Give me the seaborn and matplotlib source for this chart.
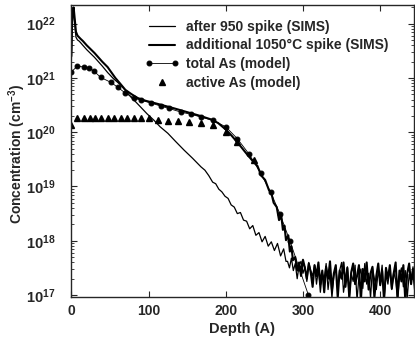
import numpy as np
import pandas as pd
import matplotlib
matplotlib.use("Agg")
import matplotlib.pyplot as plt
from matplotlib.legend_handler import HandlerLine2D
import seaborn as sns

# values, log10 of concentration (cm^-3) vs depth (A)

# SIMS after 950 spike
sims950_depth = [0, 1, 2, 3, 4, 5, 6, 8, 10, 12, 15, 20, 25, 30, 35, 40, 47, 55, 64, 70,
                 77, 84, 90, 98, 107, 115, 125, 135, 146, 157, 168, 173, 178, 183, 187, 191,
                 195, 199, 203, 207, 211, 215, 219, 223, 227, 231, 235, 239, 243, 247, 251,
                 255, 259, 263, 267, 271, 275, 278]
sims950_log = [21.3, 21.9, 22.2, 22.25, 22.1, 21.9, 21.75, 21.7, 21.68, 21.65, 21.6, 21.52,
               21.45, 21.38, 21.3, 21.22, 21.1, 20.98, 20.87, 20.77, 20.65, 20.55, 20.46,
               20.34, 20.22, 20.1, 19.98, 19.83, 19.67, 19.52, 19.36, 19.3, 19.2, 19.08,
               19.05, 18.95, 18.9, 18.82, 18.78, 18.66, 18.62, 18.5, 18.52, 18.38, 18.36,
               18.22, 18.28, 18.1, 18.15, 17.98, 18.08, 17.9, 17.98, 17.82, 17.95, 17.72,
               17.85, 17.62]
# noisy tail, one reading every 2.5 A from 280 A
sims950_tail_start = 280
sims950_tail_step = 2.5
sims950_tail_log = [17.62, 17.5, 17.68, 17.45, 17.58, 17.3, 17.55, 17.62, 17.4, 17.52, 17.25,
                    17.6, 17.45, 17.35, 17.55, 17.2, 17.48, 17.05, 17.4, 17.3, 17.58, 17.1,
                    17.42, 16.95, 17.35, 17.5, 17.15, 17.45, 17.6, 17.05, 17.3, 17.52, 16.95,
                    17.4, 17.25, 17.55, 16.9, 17.35, 17.48, 17.12, 17.58, 17.2, 17.4, 16.95,
                    17.5, 17.3, 17.1, 17.45, 17.25, 17.55, 16.92, 17.38, 17.2, 17.5, 17.1,
                    17.42, 17.28, 16.9, 17.35, 17.5, 17.15, 17.45, 16.95, 17.38, 17.22, 17.52,
                    17.1]

# SIMS after additional 1050C spike
sims1050_depth = [0, 1, 2, 3, 4, 5, 6, 8, 10, 12, 15, 20, 25, 30, 35, 40, 47, 52, 57, 63,
                  70, 78, 86, 96, 107, 120, 133, 150, 167, 180, 190, 200, 208, 217, 226,
                  236, 241, 246, 251, 256, 259, 262, 266, 269, 272, 274, 276, 278, 281,
                  283, 285, 287]
sims1050_log = [21.4, 22.0, 22.25, 22.3, 22.15, 22.0, 21.85, 21.78, 21.75, 21.72, 21.68,
                21.6, 21.53, 21.46, 21.38, 21.3, 21.2, 21.1, 21.0, 20.9, 20.78, 20.7, 20.63,
                20.58, 20.54, 20.49, 20.44, 20.37, 20.3, 20.24, 20.17, 20.05, 19.93, 19.78,
                19.62, 19.45, 19.38, 19.2, 19.12, 18.93, 18.88, 18.7, 18.62, 18.38, 18.45,
                18.2, 18.28, 18.01, 18.1, 17.8, 17.9, 17.64]
sims1050_tail_start = 290
sims1050_tail_step = 2.5
sims1050_tail_log = [17.7, 17.45, 17.6, 17.35, 17.65, 17.5, 17.3, 17.58, 17.42, 17.15,
                     17.55, 17.35, 17.6, 17.2, 17.45, 17.05, 17.52, 17.3, 17.62, 17.1,
                     17.4, 17.55, 16.95, 17.45, 17.3, 17.6, 17.15, 17.5, 16.95, 17.42,
                     17.58, 17.2, 17.35, 17.55, 16.9, 17.48, 17.25, 17.6, 17.1, 17.4,
                     17.52, 16.95, 17.35, 17.58, 17.18, 17.45, 16.9, 17.5, 17.3, 17.55,
                     17.12, 17.4, 17.6, 16.95, 17.45, 17.25, 17.55, 16.9, 17.4, 17.58,
                     17.2, 17.48, 17.1]

# model: total As
total_depth = [0, 8, 16, 23, 29, 38, 51, 60, 70, 81, 90, 103, 116, 126, 142, 155, 168,
               183, 200, 215, 230, 245, 258, 270, 283, 295, 307]
total_log = [21.11, 21.22, 21.2, 21.18, 21.13, 21.01, 20.92, 20.83, 20.72, 20.63, 20.59,
             20.54, 20.48, 20.44, 20.37, 20.33, 20.28, 20.22, 20.1, 19.88, 19.6, 19.25,
             18.9, 18.5, 18.0, 17.5, 17.0]

# model: active As
active_depth = [0, 8, 16, 24, 31, 39, 47, 55, 64, 72, 81, 90, 100, 112, 125, 138, 152,
                168, 183, 200, 215, 236]
active_log = [20.13, 20.27, 20.27, 20.27, 20.27, 20.27, 20.27, 20.27, 20.27, 20.27, 20.27,
              20.27, 20.26, 20.22, 20.2, 20.2, 20.19, 20.17, 20.13, 20.0, 19.82, 19.49]

ytick_vals = [1e17, 1e18, 1e19, 1e20, 1e21, 1e22]
ytick_labels = [r"$\mathbf{10^{17}}$", r"$\mathbf{10^{18}}$", r"$\mathbf{10^{19}}$",
                r"$\mathbf{10^{20}}$", r"$\mathbf{10^{21}}$", r"$\mathbf{10^{22}}$"]
xtick_vals = [0, 100, 200, 300, 400]


def full_series(depth, logs, tail_start, tail_step, tail_logs):
    tail_depth = [tail_start + tail_step * i for i in range(len(tail_logs))]
    d = list(depth) + tail_depth
    c = [10 ** v for v in list(logs) + list(tail_logs)]
    return pd.DataFrame({"depth": d, "conc": c})


class RightMarkerHandler(HandlerLine2D):
    # single marker drawn at the right end of the legend handle
    def get_xdata(self, legend, xdescent, ydescent, width, height, fontsize):
        xdata = np.array([-xdescent, -xdescent + width])
        return xdata, np.array([-xdescent + width - 2])


sims950 = full_series(sims950_depth, sims950_log, sims950_tail_start,
                      sims950_tail_step, sims950_tail_log)
sims1050 = full_series(sims1050_depth, sims1050_log, sims1050_tail_start,
                       sims1050_tail_step, sims1050_tail_log)
total = pd.DataFrame({"depth": total_depth, "conc": [10 ** v for v in total_log]})
active = pd.DataFrame({"depth": active_depth, "conc": [10 ** v for v in active_log]})

sns.set_style("ticks")
plt.rcParams["font.family"] = ["Liberation Sans", "DejaVu Sans"]
plt.rcParams["font.weight"] = "bold"
plt.rcParams["mathtext.fontset"] = "custom"
plt.rcParams["mathtext.rm"] = "Liberation Sans:bold"
plt.rcParams["mathtext.bf"] = "Liberation Sans:bold"

fig = plt.figure(figsize=(4.15, 3.39), dpi=100)
ax = fig.add_axes([0.170, 0.124, 0.828, 0.861])

sns.lineplot(data=sims950, x="depth", y="conc", ax=ax, color="black", lw=0.9,
             estimator=None, sort=False, label="after 950 spike (SIMS)")
sns.lineplot(data=sims1050, x="depth", y="conc", ax=ax, color="black", lw=1.5,
             estimator=None, sort=False, label="additional 1050°C spike (SIMS)")
sns.lineplot(data=total, x="depth", y="conc", ax=ax, color="black", lw=0.6,
             marker="o", markersize=3.5, markeredgecolor="black",
             estimator=None, sort=False, label="total As (model)")
tri, = ax.plot(active["depth"], active["conc"], ls="none", marker="^", markersize=4.8,
               color="black", label="active As (model)")

ax.set_yscale("log")
ax.set_xlim(-1, 444)
ax.set_ylim(9.2e16, 2.2e22)
ax.set_yticks(ytick_vals)
ax.set_yticklabels(ytick_labels, fontsize=10.5)
ax.set_xticks(xtick_vals)
ax.set_xticklabels([str(v) for v in xtick_vals], fontsize=10, fontweight="bold")
ax.tick_params(which="both", direction="in", top=True, right=True)
ax.tick_params(which="major", length=4, width=0.8)
ax.tick_params(which="minor", length=2, width=0.6)
ax.tick_params(axis="y", which="major", pad=11)
ax.tick_params(axis="x", which="major", pad=5)

ax.set_xlabel("Depth (A)", fontsize=10.5, fontweight="bold", labelpad=3)
ax.set_ylabel("Concentration (cm$^{-3}$)", fontsize=10, fontweight="bold")
ax.yaxis.set_label_coords(-0.124, 0.49)

for s in ax.spines.values():
    s.set_linewidth(1.0)

leg = ax.legend(loc="upper left", bbox_to_anchor=(0.215, 0.95), frameon=False,
                handlelength=2.5, labelspacing=0.34, handletextpad=0.5,
                borderaxespad=0, borderpad=0, numpoints=2,
                handler_map={tri: RightMarkerHandler(numpoints=1)},
                prop={"weight": "bold", "size": 10})

fig.savefig("out.png", dpi=100)
